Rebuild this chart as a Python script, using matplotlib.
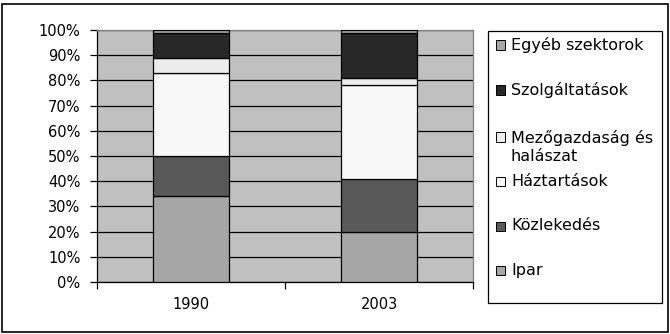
import matplotlib.pyplot as plt
from matplotlib.patches import Rectangle

plt.rcParams['font.family'] = ['DejaVu Sans']

# adatok (százalék)
years = ['1990', '2003']
sectors = ['Ipar', 'Közlekedés', 'Háztartások', 'Mezőgazdaság és\nhalászat',
           'Szolgáltatások', 'Egyéb szektorok']
ipar = [34, 20]
kozlekedes = [16, 21]
haztartasok = [33, 37]
mezogazdasag = [6, 3]
szolgaltatasok = [10, 18]
egyeb = [1, 1]
colors = ['#a6a6a6', '#595959', '#f8f8f8', '#ececec', '#282828', '#a6a6a6']

values = [ipar, kozlekedes, haztartasok, mezogazdasag, szolgaltatasok, egyeb]

fig = plt.figure(figsize=(6.7, 3.34), dpi=100, facecolor='white')
ax = fig.add_axes([97 / 670, 52 / 334, 376 / 670, 252 / 334])
ax.set_facecolor('#c0c0c0')

x = range(len(years))
bottom = [0, 0]
for vals, col in zip(values, colors):
    ax.bar(x, vals, 0.4, bottom=bottom, color=col, edgecolor='black',
           linewidth=0.9, zorder=3)
    bottom = [b + v for b, v in zip(bottom, vals)]

ax.set_xlim(-0.5, 1.5)
ax.set_ylim(0, 100)
ax.set_yticks(range(0, 101, 10))
ax.set_yticklabels([f'{t}%' for t in range(0, 101, 10)])
ax.set_xticks([-0.5, 0.5, 1.5])
ax.set_xticklabels([])
ax.set_xticks([0, 1], minor=True)
ax.set_xticklabels(years, minor=True)
ax.tick_params(axis='x', which='minor', length=0, pad=11, labelsize=10.5)
ax.tick_params(axis='x', which='major', length=5, width=0.9, direction='out')
ax.tick_params(axis='y', length=5, width=0.9, direction='out',
               labelsize=10.5, pad=7)
ax.yaxis.grid(True, color='black', linewidth=0.9, zorder=1)
ax.set_axisbelow(True)
for s in ['top', 'right']:
    ax.spines[s].set_color('#808080')
    ax.spines[s].set_linewidth(0.9)
for s in ['left', 'bottom']:
    ax.spines[s].set_linewidth(0.9)

# jelmagyarázat kézzel, Excel-szerűen
fig.patches.append(Rectangle((488 / 670, 31 / 334), 174 / 670, 272 / 334,
                             transform=fig.transFigure, fill=False,
                             edgecolor='black', linewidth=0.9))
leg_y = [45, 90, 147, 181, 226, 270]
for lab, col, yy in zip(sectors[::-1], colors[::-1], leg_y):
    my = yy - 10 if '\n' in lab else yy
    fig.patches.append(Rectangle((496 / 670, (334 - my - 4.5) / 334),
                                 9 / 670, 9 / 334, transform=fig.transFigure,
                                 facecolor=col, edgecolor='black',
                                 linewidth=0.7))
    fig.text(511 / 670, (334 - yy) / 334, lab, fontsize=11.5, va='center',
             ha='left', linespacing=1.25)

# külső keret
fig.patches.append(Rectangle((2 / 670, 2 / 334), 666 / 670, 328 / 334,
                             transform=fig.transFigure, fill=False,
                             edgecolor='black', linewidth=1.2))

plt.savefig('out.png', dpi=100)
